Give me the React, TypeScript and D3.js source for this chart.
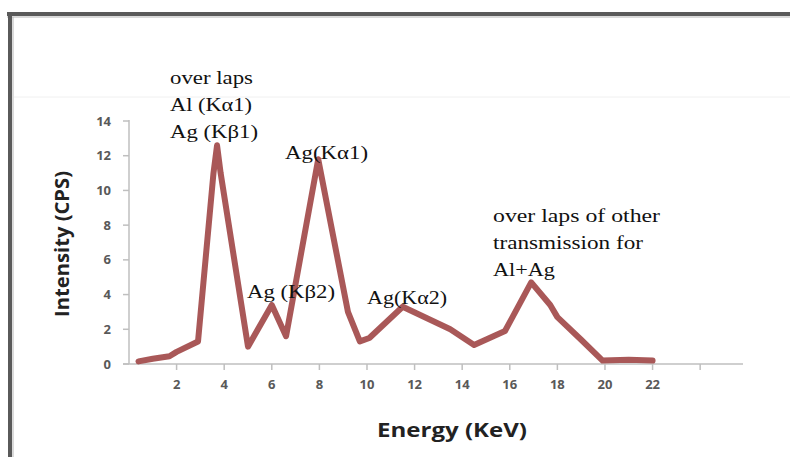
import React from 'react'
import * as d3 from 'd3'

// spectrum: energy (keV) and intensity (CPS)
const energy = [0.4, 1.0, 1.7, 2.0, 2.9, 3.55, 3.7, 3.85, 5.0, 6.0, 6.6, 7.95, 9.2, 9.7, 10.1, 11.5, 13.5, 14.5, 15.8, 16.9, 17.7, 18.0, 19.0, 19.9, 21.0, 22.0]
const intensity = [0.15, 0.3, 0.45, 0.7, 1.3, 11.0, 12.6, 11.0, 1.0, 3.4, 1.6, 11.8, 3.0, 1.3, 1.5, 3.3, 2.0, 1.1, 1.9, 4.7, 3.4, 2.7, 1.4, 0.2, 0.25, 0.2]

const xTicks = [2, 4, 6, 8, 10, 12, 14, 16, 18, 20, 22, 24]
const xTickLabels = ['2', '4', '6', '8', '10', '12', '14', '16', '18', '20', '22', '']
const yTicks = [0, 2, 4, 6, 8, 10, 12, 14]

const W = 790
const H = 457

const App = () => {
    const x = d3.scaleLinear().domain([0, 25.8]).range([129, 743])
    const y = d3.scaleLinear().domain([0, 14]).range([364, 121])

    const points: [number, number][] = energy.map((e, i) => [e, intensity[i]])
    const line = d3.line<[number, number]>()
        .x(d => x(d[0]))
        .y(d => y(d[1]))

    const axisColor = '#bfbfbf'
    const tickFont = { fontFamily: 'Open Sans, sans-serif', fontSize: 13, fontWeight: 700, fill: '#595959' }
    const serif = { fontFamily: 'Liberation Serif, serif', fontSize: 18, fill: '#111' }

    return (
        <svg width={W} height={H} style={{ position: 'absolute', left: 0, top: 0, background: '#fff' }}>
            {/* frame */}
            <line x1={7} y1={14} x2={W} y2={14} stroke="#5a5a5a" strokeWidth={4} />
            <line x1={7} y1={17} x2={W} y2={17} stroke="#b5b5b5" strokeWidth={1} />
            <line x1={10} y1={12} x2={10} y2={H} stroke="#5a5a5a" strokeWidth={4} />
            <line x1={13} y1={17} x2={13} y2={H} stroke="#b5b5b5" strokeWidth={1} />
            <line x1={14} y1={97} x2={W} y2={97} stroke="#f0f0f0" strokeWidth={1} />

            {/* y axis */}
            <line x1={x(0)} y1={y(14) - 1} x2={x(0)} y2={y(0)} stroke={axisColor} strokeWidth={1.5} />
            {yTicks.map(t => (
                <g key={'y' + t}>
                    <line x1={x(0) - 6} x2={x(0)} y1={y(t)} y2={y(t)} stroke={axisColor} strokeWidth={1.5} />
                    <text x={111} y={y(t)} dy="0.35em" textAnchor="end" style={tickFont}>{t}</text>
                </g>
            ))}

            {/* x axis */}
            <line x1={x(0) - 6} y1={y(0)} x2={x(25.8)} y2={y(0)} stroke={axisColor} strokeWidth={1.5} />
            {xTicks.map((t, i) => (
                <g key={'x' + t}>
                    <line x1={x(t)} x2={x(t)} y1={y(0)} y2={y(0) + 6} stroke={axisColor} strokeWidth={1.5} />
                    <text x={x(t)} y={y(0) + 20} dy="0.35em" textAnchor="middle" style={tickFont}>{xTickLabels[i]}</text>
                </g>
            ))}

            {/* spectrum */}
            <path d={line(points) || ''} fill="none" stroke="#a44f4f" strokeWidth={6} strokeLinejoin="round" strokeLinecap="round" opacity={0.95} />

            {/* axis titles */}
            <text x={452} y={437} textAnchor="middle" style={{ fontFamily: 'Open Sans, sans-serif', fontSize: 19, fontWeight: 700, fill: '#222' }}
                textLength={150} lengthAdjust="spacingAndGlyphs">Energy (KeV)</text>
            <text transform="translate(69,244) rotate(-90)" textAnchor="middle" style={{ fontFamily: 'Open Sans, sans-serif', fontSize: 19, fontWeight: 700, fill: '#222' }}
                textLength={146} lengthAdjust="spacingAndGlyphs">Intensity (CPS)</text>

            {/* peak annotations */}
            <text x={170} y={84} style={serif} textLength={83} lengthAdjust="spacingAndGlyphs">over laps</text>
            <text x={170} y={111} style={serif} textLength={82} lengthAdjust="spacingAndGlyphs">Al (Kα1)</text>
            <text x={170} y={138} style={serif} textLength={88} lengthAdjust="spacingAndGlyphs">Ag (Kβ1)</text>
            <text x={285} y={159} style={serif} textLength={83} lengthAdjust="spacingAndGlyphs">Ag(Kα1)</text>
            <text x={247} y={298} style={serif} textLength={88} lengthAdjust="spacingAndGlyphs">Ag (Kβ2)</text>
            <text x={367} y={304} style={serif} textLength={80} lengthAdjust="spacingAndGlyphs">Ag(Kα2)</text>
            <text x={493} y={222} style={serif} textLength={167} lengthAdjust="spacingAndGlyphs">over laps of other</text>
            <text x={493} y={249} style={serif} textLength={150} lengthAdjust="spacingAndGlyphs">transmission for</text>
            <text x={493} y={276} style={serif} textLength={62} lengthAdjust="spacingAndGlyphs">Al+Ag</text>
        </svg>
    )
}

export default App
